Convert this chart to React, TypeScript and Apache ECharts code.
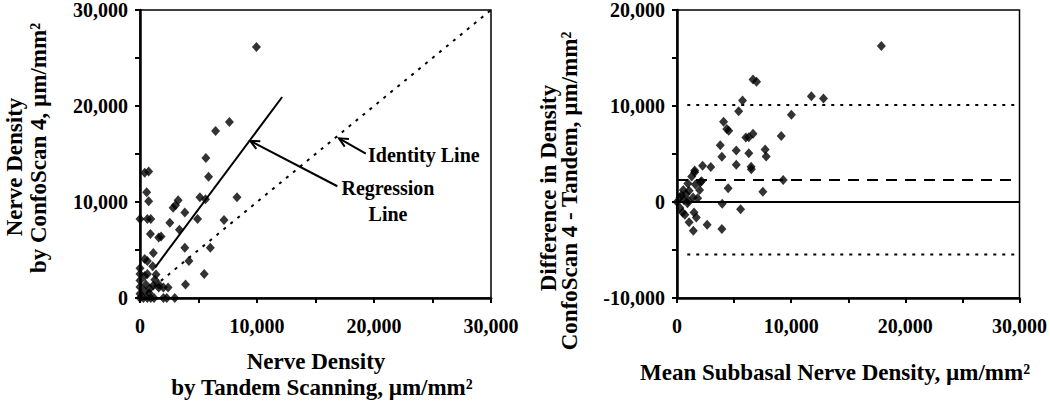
import React, { useEffect, useRef } from "react";
import * as echarts from "echarts";

// Left panel: Tandem scanning (x) vs ConfoScan 4 (y)
const tandemX = [
  9950, 7640, 6460, 5630, 5860, 5120, 5600, 8290, 3260, 2830, 3030, 3830, 4920, 2550, 3370, 7180,
  1600, 1800, 890, 400, 740, 570, 740, 0, 630, 920, 1140, 400, 630, 3830, 6010, 4180, 5490, 3890,
  1090, 0, 0, 0, 0, 0, 400, 630, 1370, 1270, 1600, 500, 850, 1140, 1600, 2000, 2400, 400, 800,
  0, 290, 630, 920, 1200, 2000, 2290, 2970,
];
const confoY = [
  26150, 18340, 17400, 14590, 12620, 10490, 10290, 10490, 10180, 9390, 9670, 8910, 8220, 7840, 7120, 8120,
  6300, 6400, 6670, 13040, 13180, 11010, 10080, 8220, 8220, 8220, 4680, 4060, 3850, 5230, 5230, 3850, 2510, 1410,
  3300, 3100, 2510, 1820, 1135, 450, 2300, 2510, 2440, 1900, 1400, 1400, 1000, 1300, 1100, 1100, 1100, 700, 500,
  0, 0, 0, 0, 0, 0, 0, 0,
];

// Right panel: Bland-Altman (mean vs difference)
const meanX = [
  17900, 6660, 6970, 5740, 5400, 4080, 4360, 4530, 11770, 12830, 10020, 9130, 6660, 6030, 6290, 3790,
  3930, 5190, 6290, 7720, 7810, 5190, 6490, 6510, 2960, 2240, 1550, 1550, 1290, 2150, 2050, 950, 1610,
  9300, 4480, 7520, 550, 1060, 1980, 780, 1810, 400, 260, 600, 0, 920, 1410, 3960, 260, 490, 690,
  1490, 1690, 1060, 1430, 2640, 5570, 3930, 980,
];
const diffY = [
  16250, 12760, 12520, 10560, 9460, 8360, 7600, 7430, 11010, 10770, 9080, 6880, 7120, 6710, 6740, 5920,
  4710, 5370, 5090, 5470, 4750, 3890, 3680, 3400, 3650, 3780, 3270, 3100, 2650, 2170, 2050, 1930, 1820,
  2300, 1440, 1070, 1240, 1170, 1240, 830, 380, 700, 480, 200, 0, -140, 480, -170, -620, -1100, -1340,
  -1100, -1620, -2100, -2990, -2370, -760, -2820, 130,
];

const axisMin = 0;
const axisMax = 30000;
const diffMin = -10000;
const diffMax = 20000;
const tickStep = 5000;
const labelStep = 10000;

const identityLine = [[0, 0], [30000, 30000]];
const regressionLine = [[1300, 3200], [12150, 20940]];
const meanDifference = 2300;
const upperLimit = 10100;
const lowerLimit = -5470;
const limitStart = 900;

const identityArrow = { tail: [19300, 15050], head: [17010, 16630] };
const regressionArrow = { tail: [16870, 11640], head: [9430, 16360] };

const FONT = "'Liberation Serif', 'Times New Roman', serif";

const fmt = (v: number) =>
  v % labelStep === 0 ? v.toLocaleString("en-US") : "";

function makeAxis(gridIndex: number, min: number, max: number, isY: boolean) {
  return {
    gridIndex,
    type: "value",
    min,
    max,
    interval: tickStep,
    axisLine: { show: true, onZero: false, lineStyle: { color: "#000", width: 2.5 } },
    axisTick: { show: true, inside: false, length: 5, lineStyle: { color: "#000", width: 2 } },
    axisLabel: {
      formatter: fmt,
      fontFamily: FONT,
      fontWeight: "bold",
      fontSize: 20,
      color: "#000",
      margin: isY ? 12 : 18,
      showMinLabel: true,
      showMaxLabel: true,
    },
    splitLine: { show: false },
  };
}

export default function App() {
  const ref = useRef<HTMLDivElement>(null);
  useEffect(() => {
    if (!ref.current) return;
    const chart = echarts.init(ref.current, undefined, { renderer: "svg" });
    const scatterStyle = { color: "#000" };
    const option: any = {
      animation: false,
      backgroundColor: "#fff",
      grid: [
        { left: 140, top: 7, width: 351, height: 291, show: true, borderColor: "#000", borderWidth: 1.5 },
        { left: 677, top: 7, width: 344, height: 291, show: true, borderColor: "#000", borderWidth: 1.5 },
      ],
      xAxis: [makeAxis(0, axisMin, axisMax, false), makeAxis(1, axisMin, axisMax, false)],
      yAxis: [makeAxis(0, axisMin, axisMax, true), makeAxis(1, diffMin, diffMax, true)],
      series: [
        {
          type: "line",
          xAxisIndex: 0,
          yAxisIndex: 0,
          data: identityLine,
          showSymbol: false,
          symbol: "none",
          lineStyle: { color: "#000", width: 2, type: [3, 6] },
          z: 1,
        },
        {
          type: "line",
          xAxisIndex: 0,
          yAxisIndex: 0,
          data: regressionLine,
          showSymbol: false,
          symbol: "none",
          lineStyle: { color: "#000", width: 2 },
          z: 1,
        },
        {
          type: "scatter",
          xAxisIndex: 0,
          yAxisIndex: 0,
          data: tandemX.map((x, i) => [x, confoY[i]]),
          symbol: "diamond",
          symbolSize: [9, 10],
          itemStyle: scatterStyle,
          z: 3,
        },
        {
          type: "line",
          xAxisIndex: 1,
          yAxisIndex: 1,
          data: [[axisMin, 0], [axisMax, 0]],
          showSymbol: false,
          symbol: "none",
          lineStyle: { color: "#000", width: 2 },
          z: 1,
        },
        {
          type: "line",
          xAxisIndex: 1,
          yAxisIndex: 1,
          data: [[axisMin, meanDifference], [axisMax, meanDifference]],
          showSymbol: false,
          symbol: "none",
          lineStyle: { color: "#000", width: 2, type: [11, 8] },
          z: 1,
        },
        {
          type: "line",
          xAxisIndex: 1,
          yAxisIndex: 1,
          data: [[limitStart, upperLimit], [axisMax, upperLimit]],
          showSymbol: false,
          symbol: "none",
          lineStyle: { color: "#000", width: 2, type: [3, 6] },
          z: 1,
        },
        {
          type: "line",
          xAxisIndex: 1,
          yAxisIndex: 1,
          data: [[limitStart, lowerLimit], [axisMax, lowerLimit]],
          showSymbol: false,
          symbol: "none",
          lineStyle: { color: "#000", width: 2, type: [3, 6] },
          z: 1,
        },
        {
          type: "scatter",
          xAxisIndex: 1,
          yAxisIndex: 1,
          data: meanX.map((x, i) => [x, diffY[i]]),
          symbol: "diamond",
          symbolSize: [9, 10],
          itemStyle: scatterStyle,
          z: 3,
        },
      ],
    };
    chart.setOption(option);

    const arrow = (a: { tail: number[]; head: number[] }) => {
      const t = chart.convertToPixel({ gridIndex: 0 }, a.tail) as number[];
      const h = chart.convertToPixel({ gridIndex: 0 }, a.head) as number[];
      const ang = Math.atan2(t[1] - h[1], t[0] - h[0]);
      const L = 10;
      const spread = 0.45;
      const p1 = [h[0] + L * Math.cos(ang + spread), h[1] + L * Math.sin(ang + spread)];
      const p2 = [h[0] + L * Math.cos(ang - spread), h[1] + L * Math.sin(ang - spread)];
      return [
        { type: "line", shape: { x1: t[0], y1: t[1], x2: h[0], y2: h[1] }, style: { stroke: "#000", lineWidth: 2 }, z: 10 },
        { type: "polyline", shape: { points: [p1, h, p2] }, style: { stroke: "#000", lineWidth: 2, fill: null }, z: 10 },
      ];
    };

    const txt = (text: string, x: number, y: number, size: number, rot = 0, align = "center") => ({
      type: "text",
      x,
      y,
      rotation: rot,
      z: 10,
      style: {
        text,
        font: `bold ${size}px ${FONT}`,
        fill: "#000",
        textAlign: align,
        textVerticalAlign: "middle",
      },
    });

    chart.setOption({
      graphic: [
        ...arrow(identityArrow),
        ...arrow(regressionArrow),
        txt("Identity Line", 368, 155, 20, 0, "left"),
        txt("Regression", 388, 188, 20),
        txt("Line", 388, 214, 20),
        txt("Nerve Density", 316, 361, 23),
        txt("by Tandem Scanning, µm/mm²", 322, 387, 23),
        txt("Mean Subbasal Nerve Density, µm/mm²", 835, 372, 23),
        txt("Nerve Density", 14, 167, 23, Math.PI / 2),
        txt("by ConfoScan 4, µm/mm²", 38, 148, 23, Math.PI / 2),
        txt("Difference in Density", 548, 188, 23, Math.PI / 2),
        txt("ConfoScan 4 - Tandem, µm/mm²", 569, 191, 23, Math.PI / 2),
      ],
    });

    return () => chart.dispose();
  }, []);
  return (
    <div
      ref={ref}
      style={{ position: "fixed", left: 0, top: 0, width: 1050, height: 401, background: "#fff" }}
    />
  );
}
